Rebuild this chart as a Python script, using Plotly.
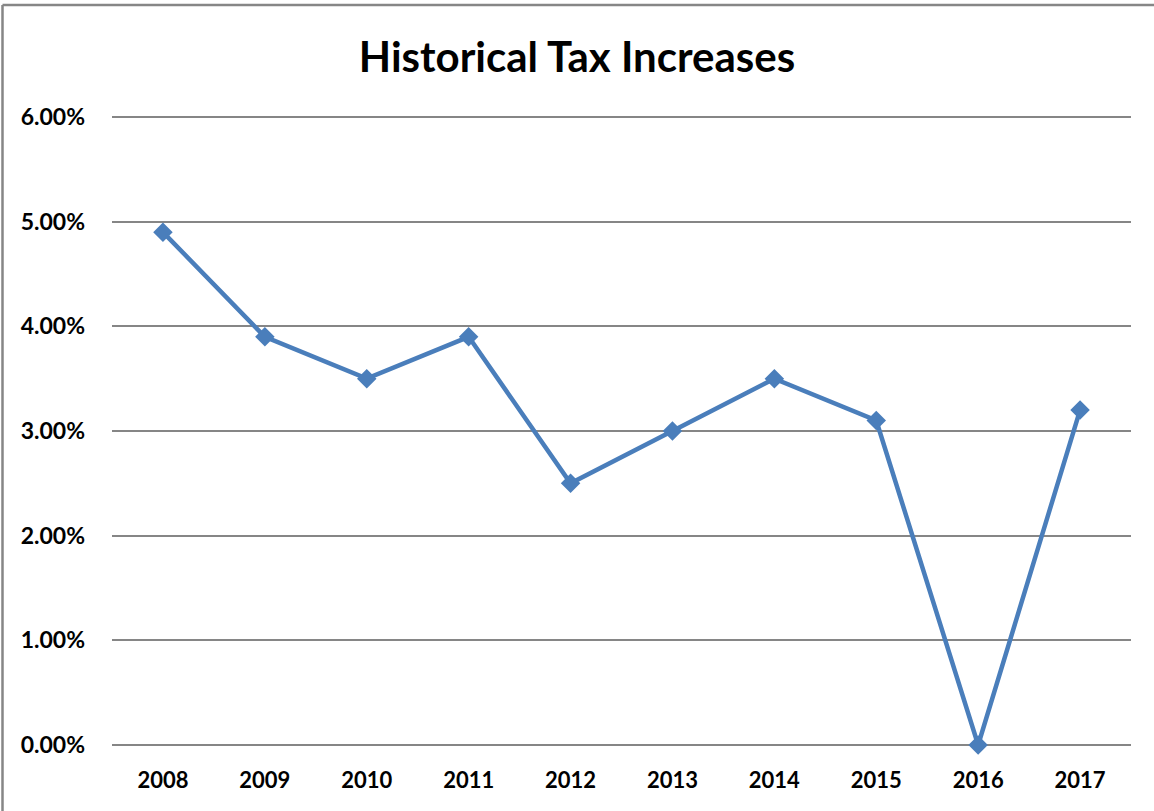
import plotly.graph_objects as go

years = ["2008", "2009", "2010", "2011", "2012", "2013", "2014", "2015", "2016", "2017"]
increase_pct = [4.9, 3.9, 3.5, 3.9, 2.5, 3.0, 3.5, 3.1, 0.0, 3.2]
y_ticks = [0, 1, 2, 3, 4, 5, 6]
y_tick_labels = ["0.00%", "1.00%", "2.00%", "3.00%", "4.00%", "5.00%", "6.00%"]

fig = go.Figure()
fig.add_trace(go.Scatter(
    x=years,
    y=increase_pct,
    mode="lines+markers",
    line=dict(color="#4a7ebb", width=4.5),
    marker=dict(symbol="diamond", size=15, color="#4a7ebb"),
    cliponaxis=False,
    hovertemplate="%{x}: %{y:.2f}%<extra></extra>",
))

W, H = 1154, 811
L, R, T, B = 112, 23, 115, 66
pw, ph = W - L - R, H - T - B
# small headroom above the top tick so its gridline is drawn
y_max = 6 + 2 * 6 / 628

fig.update_layout(
    width=W, height=H,
    margin=dict(l=L, r=R, t=T, b=B),
    paper_bgcolor="white",
    plot_bgcolor="white",
    showlegend=False,
    font=dict(family="Lato, 'Open Sans', sans-serif", color="black"),
    title=dict(
        text="<b>Historical Tax Increases</b>",
        x=0.5, xanchor="center",
        y=1 - 57 / H, yanchor="middle",
        font=dict(size=42, color="black"),
    ),
    xaxis=dict(
        type="category",
        showgrid=False,
        showline=False,
        ticks="",
        tickfont=dict(size=22, color="black", weight="bold"),
        ticklabelstandoff=20,
        range=[-0.5, len(years) - 0.5],
    ),
    yaxis=dict(
        range=[0, y_max],
        tickvals=y_ticks,
        ticktext=y_tick_labels,
        showgrid=True,
        gridcolor="#868686",
        gridwidth=1.5,
        zeroline=True,
        zerolinecolor="#868686",
        zerolinewidth=1.5,
        showline=False,
        ticks="",
        tickfont=dict(size=23, color="black", weight="bold"),
        ticklabelstandoff=26,
    ),
)

# chart frame edges (left and top)
x_left = (2.5 - L) / pw
y_top = (H - B - 5) / ph
fig.add_shape(type="line", xref="paper", yref="paper",
              x0=x_left, x1=x_left, y0=-B / ph, y1=y_top,
              line=dict(color="#868686", width=2.5))
fig.add_shape(type="line", xref="paper", yref="paper",
              x0=x_left, x1=(W - L) / pw, y0=y_top, y1=y_top,
              line=dict(color="#868686", width=2.5))

fig.write_html("out.html")
